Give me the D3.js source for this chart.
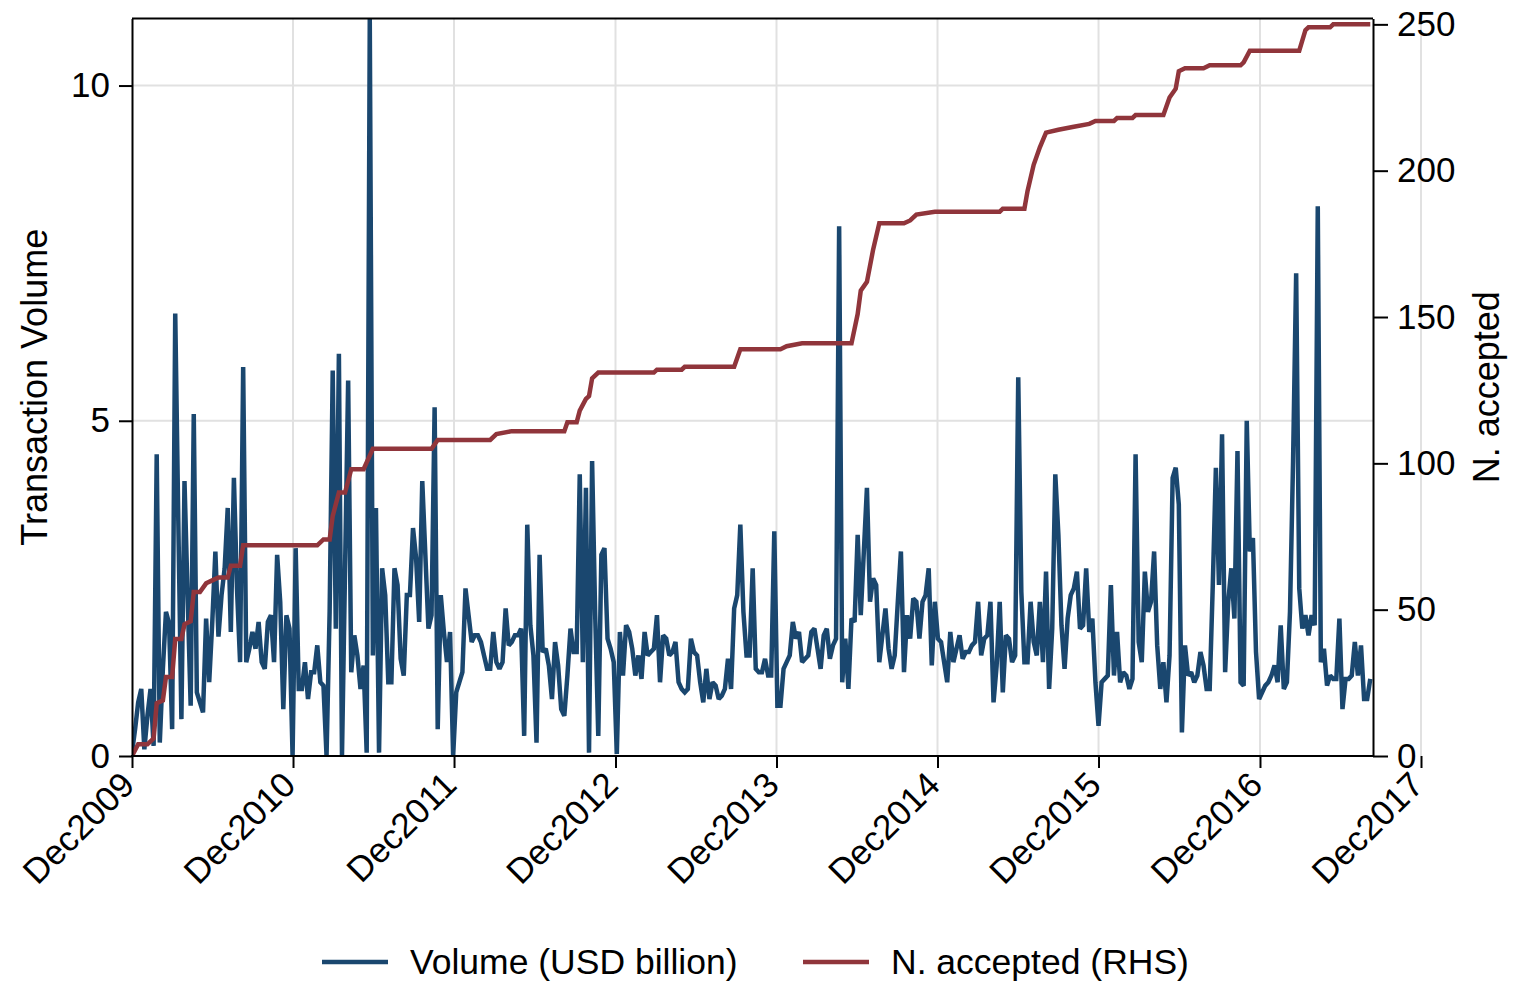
<!DOCTYPE html>
<html>
<head>
<meta charset="utf-8">
<script src="https://cdn.jsdelivr.net/npm/d3@7"></script>
<style>
  body { margin: 0; background: #ffffff; }
  svg { display: block; }
  text { font-family: "Liberation Sans", Arial, Helvetica, sans-serif; fill: #000; }
</style>
</head>
<body>
<div id="chart"></div>
<script>
// first week of the weekly series
var firstWeek = "2009-12-01";

// weekly transaction volume, USD billion (one value per week from firstWeek)
var volume = [
  0.05, 0.4, 0.8, 1.0, 0.1, 0.6, 1.0, 0.15, 4.5, 0.2,
  1.3, 2.15, 1.98, 0.4, 6.6, 3.5, 0.55, 4.1, 2.4, 0.75,
  5.1, 0.95, 0.8, 0.65, 2.05, 1.1, 2.0, 3.05, 1.78, 2.4,
  2.8, 3.7, 1.85, 4.15, 2.5, 1.4, 5.8, 1.4, 1.6, 1.85,
  1.6, 2.0, 1.4, 1.3, 2.0, 2.1, 1.4, 3.0, 2.3, 0.7,
  2.1, 1.9, 0.0, 3.1, 1.0, 1.0, 1.4, 0.85, 1.25, 1.25,
  1.65, 1.1, 1.05, 0.0, 2.15, 5.75, 1.9, 6.0, 0.0, 2.8,
  5.6, 1.25, 1.8, 1.5, 1.0, 1.35, 0.05, 11.0, 1.5, 3.7,
  0.05, 2.8, 2.4, 1.1, 1.1, 2.8, 2.55, 1.45, 1.2, 2.4,
  2.4, 3.4, 2.95, 2.0, 4.1, 3.0, 1.9, 2.1, 5.2, 0.4,
  2.4, 1.85, 1.4, 1.85, 0.0, 0.95, 1.1, 1.25, 2.5, 2.1,
  1.7, 1.8, 1.8, 1.7, 1.5, 1.3, 1.3, 1.85, 1.4, 1.3,
  1.4, 2.2, 1.65, 1.7, 1.8, 1.8, 1.9, 0.3, 3.45, 1.95,
  1.5, 0.2, 3.0, 1.55, 1.6, 1.35, 0.85, 1.7, 1.35, 0.7,
  0.6, 1.2, 1.9, 1.55, 1.55, 4.2, 1.4, 4.0, 0.05, 4.4,
  2.1, 0.3, 3.0, 3.1, 1.75, 1.6, 1.4, 0.03, 1.85, 1.2,
  1.95, 1.85, 1.6, 1.2, 1.5, 1.15, 1.85, 1.5, 1.55, 1.6,
  2.1, 1.1, 1.8, 1.75, 1.5, 1.55, 1.7, 1.1, 1.0, 0.95,
  1.0, 1.75, 1.55, 1.5, 1.1, 0.8, 1.3, 0.85, 1.1, 1.05,
  0.85, 0.9, 1.0, 1.45, 1.0, 2.2, 2.4, 3.45, 2.15, 1.5,
  1.5, 2.8, 1.3, 1.25, 1.25, 1.45, 1.2, 1.2, 3.35, 0.75,
  0.75, 1.3, 1.4, 1.5, 2.0, 1.75, 1.85, 1.4, 1.45, 1.5,
  1.85, 1.9, 1.6, 1.3, 1.8, 1.9, 1.45, 1.65, 1.75, 7.9,
  1.1, 1.75, 1.0, 2.05, 2.0, 3.3, 2.1, 3.05, 4.0, 2.3,
  2.65, 2.55, 1.4, 1.8, 2.2, 1.6, 1.3, 1.5, 2.3, 3.05,
  1.25, 2.1, 1.75, 2.35, 2.3, 1.75, 2.3, 2.4, 2.8, 1.35,
  2.3, 1.75, 1.7, 1.4, 1.1, 1.85, 1.4, 1.6, 1.8, 1.45,
  1.55, 1.55, 1.65, 1.7, 2.3, 1.5, 1.75, 1.8, 2.3, 0.8,
  1.35, 2.3, 0.95, 1.8, 1.75, 1.4, 1.5, 5.65, 2.45, 1.4,
  1.4, 2.3, 1.7, 1.5, 2.3, 1.4, 2.75, 1.0, 1.9, 4.2,
  3.3, 1.95, 1.3, 2.05, 2.4, 2.5, 2.75, 1.9, 1.95, 2.8,
  1.85, 2.05, 1.1, 0.45, 1.1, 1.15, 1.2, 2.55, 1.2, 1.85,
  1.1, 1.25, 1.2, 1.0, 1.15, 4.5, 1.7, 1.4, 2.75, 2.15,
  2.3, 3.05, 1.65, 1.0, 1.4, 0.8, 1.5, 4.15, 4.3, 3.75,
  0.35, 1.65, 1.2, 1.25, 1.1, 1.2, 1.55, 1.35, 1.0, 1.0,
  2.55, 4.3, 2.55, 4.8, 1.25, 2.3, 2.8, 2.05, 4.55, 1.1,
  1.05, 5.0, 3.05, 3.25, 1.55, 0.85, 0.95, 1.05, 1.1, 1.2,
  1.35, 1.1, 1.95, 1.0, 1.1, 2.15, 4.4, 7.2, 2.5, 1.9,
  2.1, 1.8, 2.1, 1.95, 8.2, 1.4, 1.6, 1.05, 1.2, 1.15,
  1.15, 2.05, 0.7, 1.15, 1.15, 1.2, 1.7, 1.2, 1.65, 0.85,
  0.85, 1.15
];

// cumulative number accepted (RHS): week number and count where the step line turns
var acceptedWeek = [
  0, 2, 5, 7, 8, 10, 11, 13, 14, 16, 17, 19, 20, 22, 24, 26, 28, 31, 32, 35,
  36, 60, 62, 64, 65, 67, 69, 71, 75, 78, 97, 99, 116, 118, 123, 140, 141, 144, 145, 147,
  148, 149, 151, 169, 170, 178, 179, 195, 197, 210, 212, 217, 233, 235, 236, 238, 240, 242, 250, 252,
  254, 260, 281, 282, 289, 290, 292, 294, 296, 300, 305, 310, 312, 318, 319, 324, 325, 334, 336, 338,
  339, 341, 347, 349, 359, 360, 362, 378, 380, 381, 388, 389, 401
];
var acceptedCount = [
  0, 4, 4, 6, 18, 19, 27, 27, 40, 40, 45, 46, 56, 56, 59, 60, 61, 61, 65, 65,
  72, 72, 74, 74, 82, 90, 90, 98, 98, 105, 105, 108, 108, 110, 111, 111, 114, 114, 118, 122,
  123, 129, 131, 131, 132, 132, 133, 133, 139, 139, 140, 141, 141, 151, 159, 162, 173, 182, 182, 183,
  185, 186, 186, 187, 187, 193, 202, 208, 213, 214, 215, 216, 217, 217, 218, 218, 219, 219, 225, 228,
  234, 235, 235, 236, 236, 237, 241, 241, 248, 249, 249, 250, 250
];

// axis ticks
var xTickDates = ["2009-12-01", "2010-12-01", "2011-12-01", "2012-12-01", "2013-12-01",
                  "2014-12-01", "2015-12-01", "2016-12-01", "2017-12-01"];
var yTicks = [0, 5, 10];
var y2Ticks = [0, 50, 100, 150, 200, 250];

var seriesNames = ["Volume (USD billion)", "N. accepted (RHS)"];
var seriesColors = ["#1a476f", "#90353b"];

var parseDate = d3.timeParse("%Y-%m-%d");
var fmtTick = d3.timeFormat("%b%Y");
var start = parseDate(firstWeek);
function weekDate(i) { return d3.timeDay.offset(start, 7 * i); }

// plot box
var W = 1513, H = 983;
var box = {left: 132, right: 1373, top: 18.5, bottom: 756};

var tickDates = xTickDates.map(parseDate);

var x = d3.scaleTime()
    .domain([tickDates[0], tickDates[tickDates.length - 1]])
    .range([box.left, 1421]);
var y = d3.scaleLinear().domain([0, 11]).range([box.bottom, box.top]);
var y2 = d3.scaleLinear().domain([0, 252]).range([box.bottom, box.top]);

var svg = d3.select("#chart").append("svg")
    .attr("width", W)
    .attr("height", H)
    .style("background", "#ffffff");

// grid
var grid = svg.append("g").attr("stroke", "#e1e1e1").attr("stroke-width", 2);
grid.selectAll(".hgrid")
    .data(yTicks.filter(function(d) { return d > 0; }))
    .enter().append("line")
    .attr("x1", box.left).attr("x2", box.right)
    .attr("y1", function(d) { return y(d); })
    .attr("y2", function(d) { return y(d); });
grid.selectAll(".vgrid")
    .data(tickDates.slice(1))
    .enter().append("line")
    .attr("x1", function(d) { return x(d); })
    .attr("x2", function(d) { return x(d); })
    .attr("y1", box.top).attr("y2", box.bottom);

// clip for the series
svg.append("clipPath").attr("id", "plotclip")
  .append("rect")
    .attr("x", box.left).attr("y", box.top - 1)
    .attr("width", box.right - box.left).attr("height", box.bottom - box.top + 1);

var volLine = d3.line()
    .x(function(d, i) { return x(weekDate(i)); })
    .y(function(d) { return y(d); });

svg.append("path")
    .datum(volume)
    .attr("clip-path", "url(#plotclip)")
    .attr("fill", "none")
    .attr("stroke", seriesColors[0])
    .attr("stroke-width", 4.5)
    .attr("stroke-linejoin", "miter")
    .attr("stroke-miterlimit", 2)
    .attr("d", volLine);

var accLine = d3.line()
    .x(function(d) { return x(weekDate(d)); })
    .y(function(d, i) { return y2(acceptedCount[i]); });

svg.append("path")
    .datum(acceptedWeek)
    .attr("clip-path", "url(#plotclip)")
    .attr("fill", "none")
    .attr("stroke", seriesColors[1])
    .attr("stroke-width", 4.5)
    .attr("d", accLine);

// axes
var axisG = svg.append("g").attr("stroke", "#000").attr("stroke-width", 2);
axisG.append("line")
    .attr("x1", box.left).attr("x2", box.right)
    .attr("y1", box.top).attr("y2", box.top);
axisG.append("line")
    .attr("x1", box.left - 1).attr("x2", box.right + 1)
    .attr("y1", box.bottom).attr("y2", box.bottom);

var leftAxis = svg.append("g")
    .attr("transform", "translate(" + box.left + ",0)")
    .call(d3.axisLeft(y).tickValues(yTicks).tickSize(13).tickSizeOuter(0).tickPadding(9));

var rightAxis = svg.append("g")
    .attr("transform", "translate(" + box.right + ",0)")
    .call(d3.axisRight(y2).tickValues(y2Ticks).tickSize(15).tickSizeOuter(0).tickPadding(9));

var bottomAxis = svg.append("g")
    .attr("transform", "translate(0," + box.bottom + ")")
    .call(d3.axisBottom(x).tickValues(tickDates).tickFormat(fmtTick).tickSize(12).tickSizeOuter(0));

bottomAxis.select(".domain").remove();
bottomAxis.selectAll("text")
    .attr("x", 0).attr("y", 0).attr("dy", 0)
    .attr("transform", "translate(4,31) rotate(-45)")
    .style("text-anchor", "end");

[leftAxis, rightAxis, bottomAxis].forEach(function(g) {
  g.selectAll(".domain").attr("stroke", "#000").attr("stroke-width", 2);
  g.selectAll(".tick line").attr("stroke", "#000").attr("stroke-width", 2);
  g.selectAll("text")
      .style("font-size", "35px")
      .style("font-family", "'Liberation Sans', Arial, sans-serif")
      .attr("fill", "#000");
});

// axis titles
svg.append("text")
    .attr("transform", "translate(47," + ((box.top + box.bottom) / 2) + ") rotate(-90)")
    .attr("text-anchor", "middle")
    .style("font-size", "36px")
    .text("Transaction Volume");

svg.append("text")
    .attr("transform", "translate(1499," + ((box.top + box.bottom) / 2) + ") rotate(-90)")
    .attr("text-anchor", "middle")
    .style("font-size", "36px")
    .text("N. accepted");

// legend
var legendX = [322, 803];
var legend = svg.selectAll(".legend")
    .data(seriesNames)
    .enter().append("g")
    .attr("class", "legend")
    .attr("transform", function(d, i) { return "translate(" + legendX[i] + ",962)"; });
legend.append("line")
    .attr("x1", 0).attr("x2", 66)
    .attr("stroke", function(d, i) { return seriesColors[i]; })
    .attr("stroke-width", 4.5);
legend.append("text")
    .attr("x", 88)
    .attr("dy", "0.35em")
    .style("font-size", "35.5px")
    .text(function(d) { return d; });
</script>
</body>
</html>
